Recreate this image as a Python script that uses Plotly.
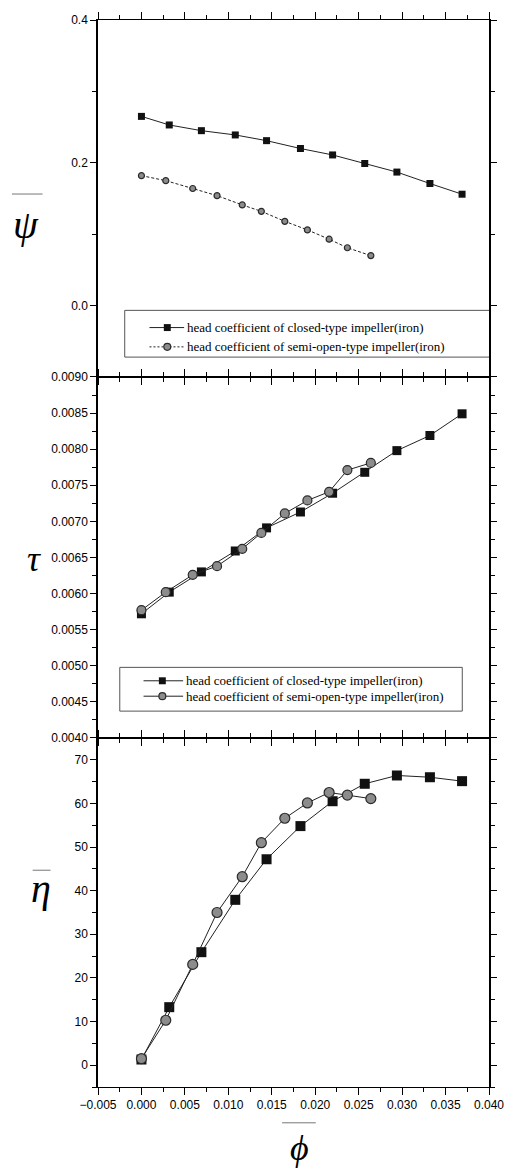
import plotly.graph_objects as go

# flow coefficient (phi) at each operating point
phi_closed = [0.0000, 0.0032, 0.0069, 0.0108, 0.0144, 0.0183, 0.0220, 0.0257, 0.0294, 0.0332, 0.0369]
phi_semi = [0.0000, 0.0028, 0.0059, 0.0087, 0.0116, 0.0138, 0.0165, 0.0191, 0.0216, 0.0237, 0.0264]

# head coefficient psi
psi_closed = [0.265, 0.253, 0.245, 0.239, 0.231, 0.220, 0.211, 0.199, 0.187, 0.171, 0.156]
psi_semi = [0.182, 0.175, 0.164, 0.154, 0.141, 0.132, 0.118, 0.106, 0.093, 0.081, 0.070]

# torque coefficient tau
tau_closed = [0.00572, 0.00602, 0.00630, 0.00659, 0.00691, 0.00713, 0.00739, 0.00768, 0.00798, 0.00819, 0.00849]
tau_semi = [0.00577, 0.00602, 0.00626, 0.00638, 0.00662, 0.00684, 0.00711, 0.00729, 0.00741, 0.00771, 0.00781]

# efficiency eta (%)
eta_closed = [1.3, 13.3, 25.9, 37.9, 47.2, 54.8, 60.5, 64.5, 66.4, 66.0, 65.1]
eta_semi = [1.5, 10.3, 23.1, 35.0, 43.2, 51.0, 56.6, 60.1, 62.5, 61.9, 61.1]

legend_closed = "head coefficient of closed-type impeller(iron)"
legend_semi = "head coefficient of semi-open-type impeller(iron)"

x_ticks = [-0.005, 0.000, 0.005, 0.010, 0.015, 0.020, 0.025, 0.030, 0.035, 0.040]
psi_ticks = [0.0, 0.2, 0.4]
tau_ticks = [0.0040, 0.0045, 0.0050, 0.0055, 0.0060, 0.0065, 0.0070, 0.0075, 0.0080, 0.0085, 0.0090]
eta_ticks = [0, 10, 20, 30, 40, 50, 60, 70]

W, H = 516, 1172
ML, MR, MT, MB = 98, 23, 14, 85
PW = W - ML - MR
PH = H - MT - MB


def px(x):
    return (x - ML) / PW


def py(y):
    return (H - MB - y) / PH


split_top = py(373)
split_bot = py(736)

SQ_COLOR = "#111111"
CI_FILL = "#8c8c8c"
CI_LINE = "#2a2a2a"

fig = go.Figure()

panels = [
    ("x", "y", psi_closed, psi_semi, 7, 6, "3px,2px"),
    ("x2", "y2", tau_closed, tau_semi, 9, 9, "solid"),
    ("x3", "y3", eta_closed, eta_semi, 10, 10, "solid"),
]
for xa, ya, yc, ys, sq, ci, semi_dash in panels:
    fig.add_trace(go.Scatter(
        x=phi_closed, y=yc, xaxis=xa, yaxis=ya, mode="lines+markers",
        line=dict(color="#222222", width=1),
        marker=dict(symbol="square", size=sq, color=SQ_COLOR, line=dict(width=0)),
        showlegend=False, name=legend_closed))
    fig.add_trace(go.Scatter(
        x=phi_semi, y=ys, xaxis=xa, yaxis=ya, mode="lines+markers",
        line=dict(color="#222222", width=1, dash=semi_dash),
        marker=dict(symbol="circle", size=ci, color=CI_FILL, line=dict(color=CI_LINE, width=1.2)),
        showlegend=False, name=legend_semi))

tick_font = dict(family="Liberation Sans, Arial", size=12, color="black")

common_x = dict(
    range=[-0.005, 0.040], tickmode="array", tickvals=x_ticks,
    tickformat=".3f", showline=True, linecolor="black", linewidth=1,
    mirror="ticks", ticks="outside", ticklen=7, tickwidth=1.2, tickcolor="black",
    minor=dict(ticks="outside", ticklen=4, tickwidth=1, tickcolor="black",
               dtick=0.0025, tick0=-0.005),
    showgrid=False, zeroline=False, tickfont=tick_font,
)
common_y = dict(
    showline=True, linecolor="black", linewidth=1.5, mirror="ticks",
    ticks="outside", ticklen=6, tickwidth=1.2, tickcolor="black",
    showgrid=False, zeroline=False, tickfont=tick_font, tickmode="array",
)

fig.update_layout(
    width=W, height=H,
    margin=dict(l=ML, r=MR, t=MT, b=MB),
    paper_bgcolor="white", plot_bgcolor="white",
    xaxis=dict(common_x, anchor="y", showticklabels=False),
    xaxis2=dict(common_x, anchor="y2", matches="x", showticklabels=False),
    xaxis3=dict(common_x, anchor="y3", matches="x"),
    yaxis=dict(common_y, domain=[split_top, 1], anchor="x", range=[-0.1, 0.4],
               tickvals=psi_ticks, tickformat=".1f",
               minor=dict(ticks="outside", ticklen=4, tickcolor="black", dtick=0.1, tick0=-0.1)),
    yaxis2=dict(common_y, domain=[split_bot, split_top], anchor="x2", range=[0.004, 0.009],
                tickvals=tau_ticks, tickformat=".4f",
                minor=dict(ticks="outside", ticklen=4, tickcolor="black", dtick=0.00025, tick0=0.004)),
    yaxis3=dict(common_y, domain=[0, split_bot], anchor="x3", range=[-5, 75],
                tickvals=eta_ticks, tickformat="d",
                minor=dict(ticks="outside", ticklen=4, tickcolor="black", dtick=5, tick0=-5)),
)

shapes = []
annotations = []


def legend_block(box, rows, line_x, mark_x, text_x, msize):
    x0, y0, x1, y1 = box
    shapes.append(dict(type="rect", xref="paper", yref="paper",
                       x0=px(x0), x1=px(x1), y0=py(y1), y1=py(y0),
                       line=dict(color="#555555", width=1), fillcolor="white", layer="below"))
    for yrow, kind, text, dash in rows:
        shapes.append(dict(type="line", xref="paper", yref="paper",
                           x0=px(line_x[0]), x1=px(line_x[1]), y0=py(yrow), y1=py(yrow),
                           line=dict(color="#222222", width=1, dash=dash)))
        h = msize / 2
        if kind == "square":
            shapes.append(dict(type="rect", xref="paper", yref="paper",
                               x0=px(mark_x - h), x1=px(mark_x + h),
                               y0=py(yrow + h), y1=py(yrow - h),
                               line=dict(width=0), fillcolor=SQ_COLOR))
        else:
            shapes.append(dict(type="circle", xref="paper", yref="paper",
                               x0=px(mark_x - h), x1=px(mark_x + h),
                               y0=py(yrow + h), y1=py(yrow - h),
                               line=dict(color=CI_LINE, width=1.2), fillcolor=CI_FILL))
        annotations.append(dict(xref="paper", yref="paper", x=px(text_x), y=py(yrow),
                                xanchor="left", yanchor="middle", showarrow=False,
                                text=text, font=dict(family="Liberation Serif, Times New Roman",
                                                     size=13, color="black")))


legend_block((125, 306, 494, 353),
             [(323.3, "square", legend_closed, "solid"),
              (342.7, "circle", legend_semi, "2px,2px")],
             (150, 185), 168, 186, 7)
legend_block((120, 665, 466, 709),
             [(678.5, "square", legend_closed, "solid"),
              (694.0, "circle", legend_semi, "solid")],
             (144, 184), 163, 185, 7)

# axis symbols
sym_font = dict(family="Liberation Serif, Times New Roman", color="black")
for sym, x, y, size in [("ψ", 25, 220, 40), ("τ", 33, 556, 36), ("η", 40, 887, 40), ("ϕ", 302, 1148, 36)]:
    annotations.append(dict(xref="paper", yref="paper", x=px(x), y=py(y),
                            xanchor="center", yanchor="middle", showarrow=False,
                            text=f"<i>{sym}</i>", font=dict(sym_font, size=size)))

# overbars above the symbols
for x0, x1, y in [(11, 42, 189), (32, 50, 869), (284, 318, 1123)]:
    shapes.append(dict(type="line", xref="paper", yref="paper",
                       x0=px(x0), x1=px(x1), y0=py(y), y1=py(y),
                       line=dict(color="#777777", width=1)))

fig.update_layout(shapes=shapes, annotations=annotations)
fig.write_html("out.html")
